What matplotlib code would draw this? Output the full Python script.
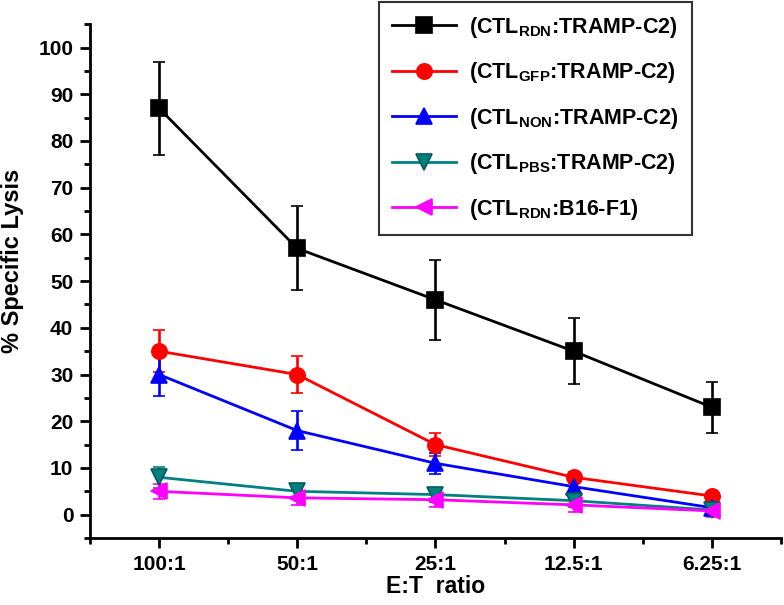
import matplotlib
matplotlib.use("Agg")
import matplotlib.pyplot as plt
from matplotlib.ticker import MultipleLocator
from matplotlib.lines import Line2D

plt.rcParams['font.family'] = ['Liberation Sans', 'DejaVu Sans']
plt.rcParams['font.weight'] = 'bold'
plt.rcParams['mathtext.fontset'] = 'custom'
plt.rcParams['mathtext.rm'] = 'Liberation Sans:bold'
plt.rcParams['mathtext.bf'] = 'Liberation Sans:bold'
plt.rcParams['mathtext.it'] = 'Liberation Sans:bold'
plt.rcParams['mathtext.default'] = 'rm'

categories = ["100:1", "50:1", "25:1", "12.5:1", "6.25:1"]

rdn_tramp = [87, 57, 46, 35, 23]
rdn_tramp_err = [10, 9, 8.5, 7, 5.5]
gfp_tramp = [35, 30, 15, 8, 4]
gfp_tramp_err = [4.5, 4, 2.5, 1.2, 0.6]
non_tramp = [30, 18, 11, 6, 1.5]
non_tramp_err = [4.5, 4.2, 2.3, 1.5, 1.2]
pbs_tramp = [8, 5, 4.3, 3, 1]
pbs_tramp_err = [2.2, 1.5, 1.5, 1.3, 0.8]
rdn_b16 = [5, 3.6, 3.2, 2.1, 0.8]
rdn_b16_err = [1.6, 1.6, 1.5, 1.5, 1.2]

labels = [r"(CTL$_{\mathrm{RDN}}$:TRAMP-C2)",
          r"(CTL$_{\mathrm{GFP}}$:TRAMP-C2)",
          r"(CTL$_{\mathrm{NON}}$:TRAMP-C2)",
          r"(CTL$_{\mathrm{PBS}}$:TRAMP-C2)",
          r"(CTL$_{\mathrm{RDN}}$:B16-F1)"]
series = [rdn_tramp, gfp_tramp, non_tramp, pbs_tramp, rdn_b16]
errors = [rdn_tramp_err, gfp_tramp_err, non_tramp_err, pbs_tramp_err, rdn_b16_err]
colors = ["#000000", "#ff0000", "#0000ff", "#008080", "#ff00ff"]
edges = ["#000000", "#ff0000", "#0000ff", "#005a5a", "#ff00ff"]
markers = ["s", "o", "^", "v", "<"]

fig = plt.figure(figsize=(7.84, 6.05), dpi=100)
ax = fig.add_axes([0.1148, 0.1107, 0.8812, 0.8493])

x = list(range(len(categories)))
handles = []
for y, e, c, ec, m, lab in zip(series, errors, colors, edges, markers, labels):
    ax.errorbar(x, y, yerr=e, color=c, marker=m, markersize=11,
                markeredgecolor=ec, markeredgewidth=1.2, linewidth=2.0,
                elinewidth=1.9, capsize=4.5, capthick=1.9)
    handles.append(Line2D([], [], color=c, marker=m, markersize=11,
                          markeredgecolor=ec, markeredgewidth=1.2,
                          linewidth=2.0, label=lab))

ax.set_xlim(-0.5, 4.5)
ax.set_ylim(-5, 105)
ax.set_xticks(x)
ax.set_xticklabels(categories)
ax.xaxis.set_minor_locator(MultipleLocator(0.5))
ax.yaxis.set_minor_locator(MultipleLocator(5))
ax.set_yticks(range(0, 101, 10))

for s in ['top', 'right']:
    ax.spines[s].set_visible(False)
for s in ['left', 'bottom']:
    ax.spines[s].set_linewidth(2.0)
ax.tick_params(which='major', direction='out', length=7, width=2, labelsize=15, pad=5)
ax.tick_params(which='minor', direction='out', length=4, width=2)
for lbl in ax.get_xticklabels() + ax.get_yticklabels():
    lbl.set_fontweight('bold')

ax.set_xlabel("E:T  ratio", fontsize=16.5, fontweight='bold')
ax.xaxis.set_label_coords(0.5, -0.095)
ax.xaxis.label.set_verticalalignment('center')
ax.set_ylabel("% Specific Lysis", fontsize=17, fontweight='bold')
ax.yaxis.set_label_coords(-0.095, 0.54)

leg = ax.legend(handles=handles, loc='upper left', bbox_to_anchor=(0.418, 1.043),
                fontsize=15.5, frameon=True, fancybox=False, edgecolor='black',
                handlelength=3.0, handletextpad=0.6, labelspacing=0.95,
                borderpad=0.6, borderaxespad=0)
leg.get_frame().set_linewidth(1.5)
for t in leg.get_texts():
    t.set_fontweight('bold')

fig.savefig("out.png", dpi=100)
